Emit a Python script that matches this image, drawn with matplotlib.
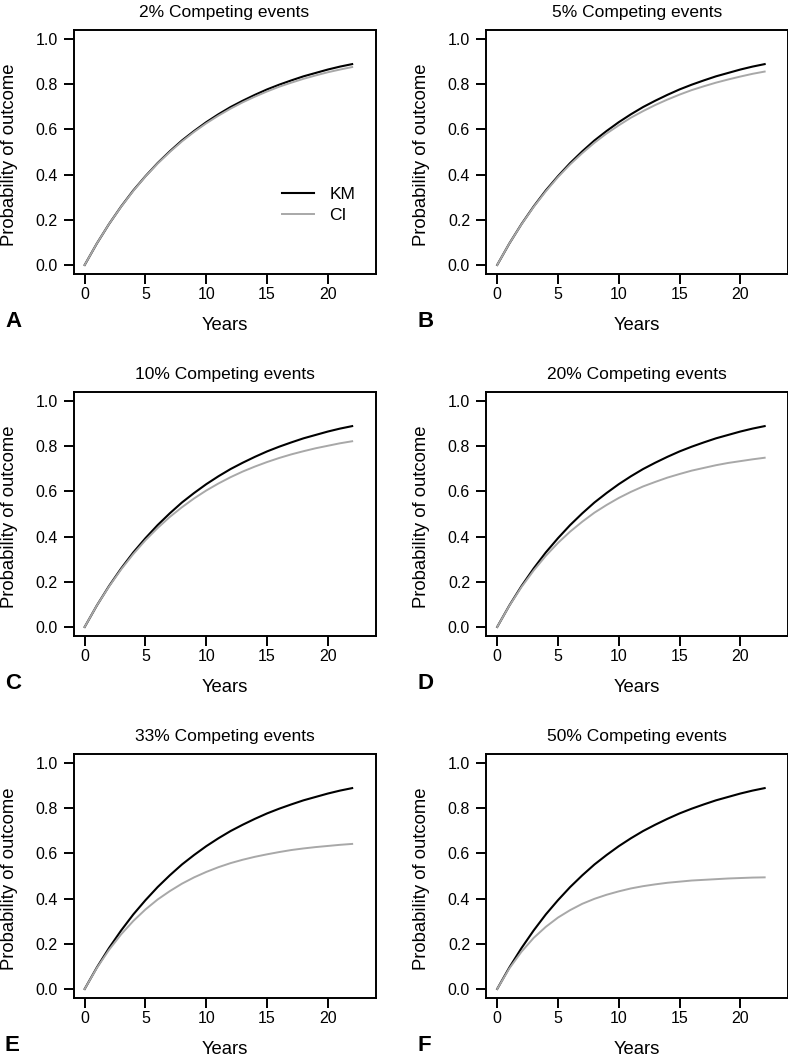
import matplotlib
matplotlib.use('Agg')
import matplotlib.pyplot as plt

plt.rcParams['font.family'] = ['Liberation Sans', 'DejaVu Sans']

years = list(range(23))

km = [0.000, 0.095, 0.181, 0.259, 0.330, 0.393, 0.451, 0.503, 0.551, 0.593, 0.632, 0.667,
      0.699, 0.727, 0.753, 0.777, 0.798, 0.817, 0.835, 0.850, 0.865, 0.878, 0.889]

ci_2 = [0.000, 0.095, 0.181, 0.258, 0.328, 0.392, 0.449, 0.500, 0.547, 0.589, 0.627, 0.661,
        0.692, 0.720, 0.745, 0.768, 0.789, 0.807, 0.824, 0.839, 0.853, 0.865, 0.876]
ci_5 = [0.000, 0.095, 0.180, 0.257, 0.326, 0.389, 0.445, 0.495, 0.541, 0.582, 0.618, 0.652,
        0.681, 0.708, 0.732, 0.754, 0.774, 0.791, 0.807, 0.821, 0.834, 0.846, 0.856]
ci_10 = [0.000, 0.095, 0.179, 0.255, 0.323, 0.384, 0.438, 0.487, 0.530, 0.569, 0.604, 0.635,
         0.663, 0.688, 0.710, 0.730, 0.748, 0.764, 0.778, 0.791, 0.802, 0.813, 0.822]
ci_20 = [0.000, 0.094, 0.177, 0.250, 0.315, 0.372, 0.422, 0.466, 0.506, 0.540, 0.571, 0.598,
         0.622, 0.642, 0.661, 0.677, 0.692, 0.704, 0.716, 0.726, 0.734, 0.742, 0.749]
ci_33 = [0.000, 0.093, 0.173, 0.242, 0.301, 0.352, 0.396, 0.433, 0.466, 0.494, 0.518, 0.539,
         0.557, 0.572, 0.585, 0.596, 0.606, 0.615, 0.622, 0.628, 0.633, 0.638, 0.642]
ci_50 = [0.000, 0.091, 0.165, 0.226, 0.275, 0.316, 0.349, 0.377, 0.399, 0.417, 0.432, 0.445,
         0.455, 0.463, 0.470, 0.475, 0.480, 0.483, 0.486, 0.489, 0.491, 0.493, 0.494]

titles = ['2% Competing events', '5% Competing events', '10% Competing events',
          '20% Competing events', '33% Competing events', '50% Competing events']
letters = ['A', 'B', 'C', 'D', 'E', 'F']
ci_all = [ci_2, ci_5, ci_10, ci_20, ci_33, ci_50]

W, H = 788, 1059
fig = plt.figure(figsize=(W / 100, H / 100), dpi=100)

lefts = [73.5, 486]
tops = [30, 392, 754]
aw, ah = 302, 244
gray = '#a8a8a8'

for i in range(6):
    row, col = i // 2, i % 2
    ax = fig.add_axes([lefts[col] / W, (H - tops[row] - ah) / H, aw / W, ah / H])
    ax.plot(years, km, color='black', lw=1.5, label='KM')
    ax.plot(years, ci_all[i], color=gray, lw=1.4, label='CI')
    ax.set_xlim(-0.92, 23.92)
    ax.set_ylim(-0.04, 1.04)
    ax.set_xticks([0, 5, 10, 15, 20])
    ax.set_yticks([0.0, 0.2, 0.4, 0.6, 0.8, 1.0])
    ax.set_yticklabels(['0.0', '0.2', '0.4', '0.6', '0.8', '1.0'])
    for s in ax.spines.values():
        s.set_linewidth(1.4)
    ax.tick_params(axis='both', direction='out', length=7, width=1.4, labelsize=11.5)
    ax.tick_params(axis='x', pad=2.5)
    ax.tick_params(axis='y', pad=4.5)
    ax.set_title(titles[i], fontsize=12.5, pad=9)
    ax.text(0.5, -0.2295, 'Years', transform=ax.transAxes, fontsize=13.3,
            ha='center', va='baseline')
    ax.text(-0.212, 0.49, 'Probability of outcome', transform=ax.transAxes, fontsize=13.3,
            rotation=90, ha='center', va='center')
    ax.text(-0.227, -0.217, letters[i], transform=ax.transAxes, fontsize=16,
            fontweight='bold', ha='left', va='baseline')
    if i == 0:
        ax.legend(loc='center', bbox_to_anchor=(0.812, 0.283), frameon=False,
                  fontsize=12.5, handlelength=1.8, handletextpad=0.9,
                  labelspacing=0.35, borderpad=0, borderaxespad=0)

fig.savefig('out.png', dpi=100)
